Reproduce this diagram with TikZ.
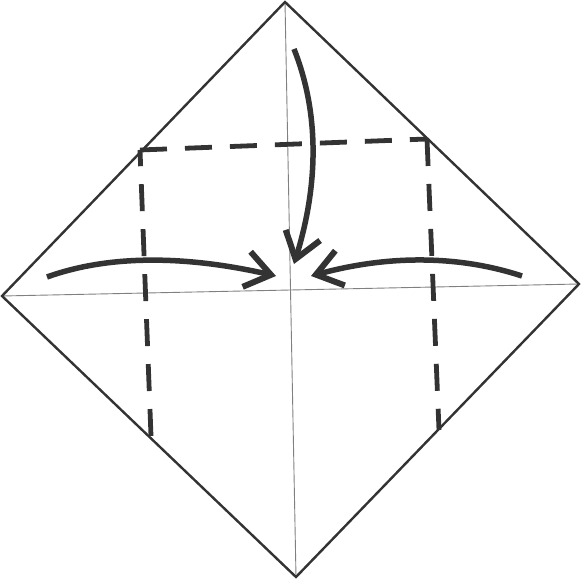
\documentclass[tikz,border=0pt]{standalone}
\usetikzlibrary{arrows.meta}
\definecolor{ink}{HTML}{333333}

\begin{document}
\begin{tikzpicture}[x=1pt, y=-1pt,
		edge/.style = {draw=ink, line width=2.4pt, line join=miter},
		crease/.style = {draw=gray, line width=0.9pt},
		fold/.style = {draw=ink, line width=4.8pt, dash pattern=on 27pt off 18pt},
		move/.style = {draw=ink, line width=5.5pt, -{Straight Barb[length=25pt, width=36pt, line width=6pt]}}]
		\useasboundingbox (0,0) rectangle (581,580);
		\coordinate (T) at (285,2);
		\coordinate (R) at (579,284);
		\coordinate (B) at (296,577);
		\coordinate (L) at (2,296);
		\coordinate (f1) at (140,150);
		\coordinate (f2) at (427,139);
		\coordinate (f3) at (439,430);
		\coordinate (f4) at (151,436);
		\draw[crease] (L) -- (R);
		\draw[crease] (T) -- (B);
		\draw[edge] (T) -- (R) -- (B) -- (L) -- cycle;
		\draw[fold] (f1) -- (f2);
		\draw[fold] (f2) -- (f3);
		\draw[fold] (f4) -- (f1);
		\draw[move] (47,277) .. controls (108,255) and (184,255) .. (276,276);
		\draw[move] (522,276) .. controls (458,255) and (388,255) .. (311,276);
		\draw[move] (294,49) .. controls (319,112) and (319,183) .. (294,264);
	\end{tikzpicture}
\end{document}
